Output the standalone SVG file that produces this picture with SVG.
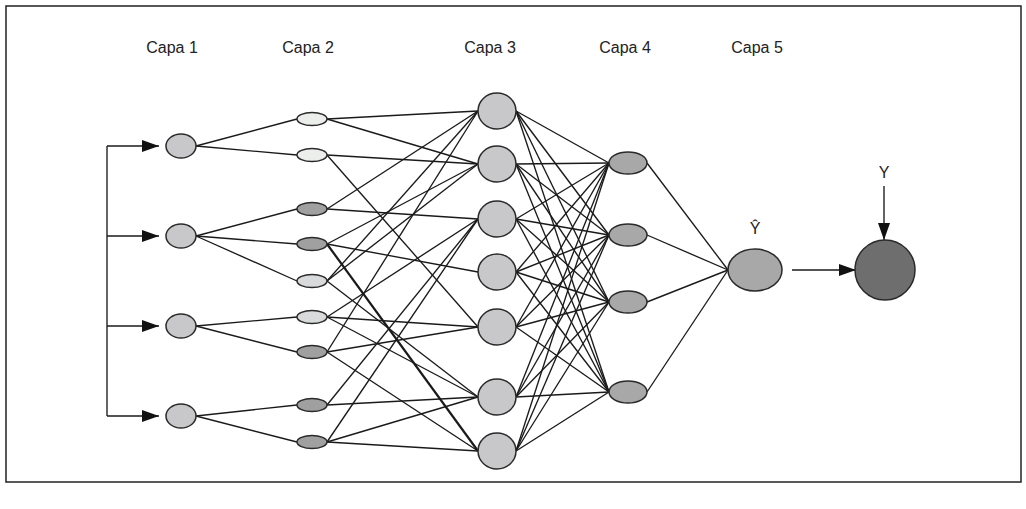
<svg xmlns="http://www.w3.org/2000/svg" width="1026" height="509" viewBox="0 0 1026 509">
<defs>
<marker id="ah" viewBox="0 0 17 12" refX="17" refY="6" markerWidth="17" markerHeight="12" markerUnits="userSpaceOnUse" orient="auto">
<path d="M0,0 L17,6 L0,12 z" fill="#111"/>
</marker>
<style>
.lbl{font-family:"Liberation Sans",Arial,sans-serif;font-size:16px;fill:#222;text-anchor:middle}
.n{stroke:#2a2a2a;stroke-width:1.5}
.c1{fill:#c8c8ca}
.cl{fill:#eceeec}
.cm{fill:#d9dadb}
.cd{fill:#a0a0a0}
.c4{fill:#a8a8a8}
.e line{stroke:#1a1a1a;stroke-width:1.35}
.a{stroke:#1a1a1a;stroke-width:1.35;fill:none}
</style>
</defs>
<rect x="6" y="6" width="1015" height="476" fill="#fff" stroke="#222" stroke-width="1.5"/>
<text class="lbl" x="172" y="53">Capa 1</text>
<text class="lbl" x="308" y="53">Capa 2</text>
<text class="lbl" x="490" y="53">Capa 3</text>
<text class="lbl" x="625" y="53">Capa 4</text>
<text class="lbl" x="757" y="53">Capa 5</text>
<g id="connectors" class="e">
<polyline class="a" points="107,146 107,416"/>
<line x1="107" y1="146" x2="159" y2="146" marker-end="url(#ah)"/>
<line x1="107" y1="236" x2="159" y2="236" marker-end="url(#ah)"/>
<line x1="107" y1="326" x2="159" y2="326" marker-end="url(#ah)"/>
<line x1="107" y1="416" x2="159" y2="416" marker-end="url(#ah)"/>
<line x1="196" y1="146" x2="297" y2="119"/>
<line x1="196" y1="146" x2="297" y2="155"/>
<line x1="196" y1="236" x2="297" y2="209"/>
<line x1="196" y1="236" x2="297" y2="244"/>
<line x1="196" y1="236" x2="297" y2="281"/>
<line x1="196" y1="326" x2="297" y2="317"/>
<line x1="196" y1="326" x2="297" y2="352"/>
<line x1="196" y1="416" x2="297" y2="405"/>
<line x1="196" y1="416" x2="297" y2="442"/>
<line x1="327" y1="119" x2="478" y2="111"/>
<line x1="327" y1="119" x2="478" y2="164"/>
<line x1="327" y1="155" x2="478" y2="164"/>
<line x1="327" y1="155" x2="478" y2="327"/>
<line x1="327" y1="209" x2="478" y2="111"/>
<line x1="327" y1="209" x2="478" y2="219"/>
<line x1="327" y1="244" x2="478" y2="164"/>
<line x1="327" y1="244" x2="478" y2="272"/>
<line x1="327" y1="244" x2="478" y2="451" style="stroke-width:2.2"/>
<line x1="327" y1="281" x2="478" y2="111"/>
<line x1="327" y1="281" x2="478" y2="164"/>
<line x1="327" y1="281" x2="478" y2="397"/>
<line x1="327" y1="317" x2="478" y2="219"/>
<line x1="327" y1="317" x2="478" y2="327"/>
<line x1="327" y1="317" x2="478" y2="397"/>
<line x1="327" y1="352" x2="478" y2="111"/>
<line x1="327" y1="352" x2="478" y2="327"/>
<line x1="327" y1="352" x2="478" y2="451"/>
<line x1="327" y1="405" x2="478" y2="397"/>
<line x1="327" y1="405" x2="478" y2="219"/>
<line x1="327" y1="442" x2="478" y2="451"/>
<line x1="327" y1="442" x2="478" y2="397"/>
<line x1="327" y1="442" x2="478" y2="219"/>
<g id="l3l4">
<line x1="516" y1="111" x2="609" y2="163"/><line x1="516" y1="111" x2="609" y2="235"/><line x1="516" y1="111" x2="609" y2="302"/><line x1="516" y1="111" x2="609" y2="392"/>
<line x1="516" y1="164" x2="609" y2="163"/><line x1="516" y1="164" x2="609" y2="235"/><line x1="516" y1="164" x2="609" y2="302"/><line x1="516" y1="164" x2="609" y2="392"/>
<line x1="516" y1="219" x2="609" y2="163"/><line x1="516" y1="219" x2="609" y2="235"/><line x1="516" y1="219" x2="609" y2="302"/><line x1="516" y1="219" x2="609" y2="392"/>
<line x1="516" y1="272" x2="609" y2="163"/><line x1="516" y1="272" x2="609" y2="235"/><line x1="516" y1="272" x2="609" y2="302"/><line x1="516" y1="272" x2="609" y2="392"/>
<line x1="516" y1="327" x2="609" y2="163"/><line x1="516" y1="327" x2="609" y2="235"/><line x1="516" y1="327" x2="609" y2="302"/><line x1="516" y1="327" x2="609" y2="392"/>
<line x1="516" y1="397" x2="609" y2="163"/><line x1="516" y1="397" x2="609" y2="235"/><line x1="516" y1="397" x2="609" y2="302"/><line x1="516" y1="397" x2="609" y2="392"/>
<line x1="516" y1="451" x2="609" y2="163"/><line x1="516" y1="451" x2="609" y2="235"/><line x1="516" y1="451" x2="609" y2="302"/><line x1="516" y1="451" x2="609" y2="392"/>
</g>
<line x1="647" y1="163" x2="728" y2="270"/>
<line x1="647" y1="235" x2="728" y2="270"/>
<line x1="647" y1="302" x2="728" y2="270"/>
<line x1="647" y1="392" x2="728" y2="270"/>
<line x1="792" y1="270" x2="856" y2="270" marker-end="url(#ah)"/>
<line x1="884" y1="186" x2="884" y2="240" marker-end="url(#ah)"/>
</g>
<g id="layer1">
<ellipse id="n1a" class="n c1" cx="181" cy="146" rx="15" ry="12"/>
<ellipse id="n1b" class="n c1" cx="181" cy="236" rx="15" ry="12"/>
<ellipse id="n1c" class="n c1" cx="181" cy="326" rx="15" ry="12"/>
<ellipse id="n1d" class="n c1" cx="181" cy="416" rx="15" ry="12"/>
</g>
<g id="layer2">
<ellipse id="n2a" class="n cl" cx="312" cy="119" rx="15" ry="6.5"/>
<ellipse id="n2b" class="n cl" cx="312" cy="155" rx="15" ry="6.5"/>
<ellipse id="n2c" class="n cd" cx="312" cy="209" rx="15" ry="6.5"/>
<ellipse id="n2d" class="n cd" cx="312" cy="244" rx="15" ry="6.5"/>
<ellipse id="n2e" class="n cm" cx="312" cy="281" rx="15" ry="6.5"/>
<ellipse id="n2f" class="n cm" cx="312" cy="317" rx="15" ry="6.5"/>
<ellipse id="n2g" class="n cd" cx="312" cy="352" rx="15" ry="6.5"/>
<ellipse id="n2h" class="n cd" cx="312" cy="405" rx="15" ry="6.5"/>
<ellipse id="n2i" class="n cd" cx="312" cy="442" rx="15" ry="6.5"/>
</g>
<g id="layer3">
<ellipse id="n3a" class="n c1" cx="497" cy="111" rx="19" ry="18"/>
<ellipse id="n3b" class="n c1" cx="497" cy="164" rx="19" ry="18"/>
<ellipse id="n3c" class="n c1" cx="497" cy="219" rx="19" ry="18"/>
<ellipse id="n3d" class="n c1" cx="497" cy="272" rx="19" ry="18"/>
<ellipse id="n3e" class="n c1" cx="497" cy="327" rx="19" ry="18"/>
<ellipse id="n3f" class="n c1" cx="497" cy="397" rx="19" ry="18"/>
<ellipse id="n3g" class="n c1" cx="497" cy="451" rx="19" ry="18"/>
</g>
<g id="layer4">
<ellipse id="n4a" class="n c4" cx="628" cy="163" rx="19" ry="11"/>
<ellipse id="n4b" class="n c4" cx="628" cy="235" rx="19" ry="11"/>
<ellipse id="n4c" class="n c4" cx="628" cy="302" rx="19" ry="11"/>
<ellipse id="n4d" class="n c4" cx="628" cy="392" rx="19" ry="11"/>
</g>
<g id="layer5">
<ellipse class="n c4" cx="755" cy="270" rx="27" ry="21"/>
<text class="lbl" x="755" y="234">Ŷ</text>
</g>
<g id="target">
<circle class="n" cx="885" cy="270" r="30" fill="#6e6e6e"/>
<text class="lbl" x="884" y="178">Y</text>
</g>
</svg>
